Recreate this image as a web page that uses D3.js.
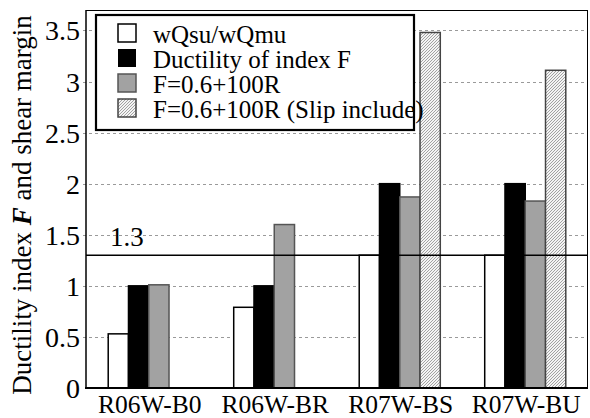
<!DOCTYPE html>
<html>
<head>
<meta charset="utf-8">
<script src="https://cdn.jsdelivr.net/npm/d3@7"></script>
<style>
  html, body { margin: 0; padding: 0; background: #fff; }
  svg { display: block; }
</style>
</head>
<body>
<svg id="chart" width="590" height="418"></svg>
<script>
const categories = ["R06W-B0", "R06W-BR", "R07W-BS", "R07W-BU"];
const seriesNames = ["wQsu/wQmu", "Ductility of index F", "F=0.6+100R", "F=0.6+100R (Slip include)"];
const shearMargin = [0.53, 0.79, 1.30, 1.30];
const ductilityF = [1.00, 1.00, 2.00, 2.00];
const formulaF = [1.01, 1.60, 1.87, 1.83];
const formulaSlipF = [null, null, 3.48, 3.11];
const yTicks = [0, 0.5, 1, 1.5, 2, 2.5, 3, 3.5];
const tickLabels = ["0", "0.5", "1", "1.5", "2", "2.5", "3", "3.5"];
const refValue = 1.3;
const refLabel = "1.3";

const seriesValues = [shearMargin, ductilityF, formulaF, formulaSlipF];
const FONT = "Liberation Serif";

const svg = d3.select("#chart");
const mLeft = 86, mRight = 588, mTop = 10, mBottom = 388;

const defs = svg.append("defs");
const pat = defs.append("pattern").attr("id", "hatch").attr("patternUnits", "userSpaceOnUse")
  .attr("width", 3).attr("height", 3);
pat.append("rect").attr("width", 3).attr("height", 3).attr("fill", "#f4f4f4");
pat.append("path").attr("d", "M-1,1 L1,-1 M0,3 L3,0 M2,4 L4,2").attr("stroke", "#999999").attr("stroke-width", 0.9);

const fills = ["#ffffff", "#000000", "#a2a2a2", "url(#hatch)"];
const strokes = ["#000000", "#000000", "#555555", "#444444"];

const y = d3.scaleLinear().domain([0, 3.7]).range([mBottom, mTop]);
const x = d3.scaleBand().domain(categories).range([mLeft, mRight]).paddingInner(0.354).paddingOuter(0.177);
const xs = d3.scaleBand().domain(d3.range(seriesNames.length)).range([0, x.bandwidth()]).padding(0);

// gridlines
svg.append("g").selectAll("line").data(yTicks.filter(d => d > 0)).join("line")
  .attr("x1", mLeft - 3).attr("x2", mRight)
  .attr("y1", d => Math.round(y(d)) + 0.5).attr("y2", d => Math.round(y(d)) + 0.5)
  .attr("stroke", "#9a9a9a").attr("stroke-width", 1).attr("stroke-dasharray", "3,3");

// bars
const rows = [];
categories.forEach((c, ci) => {
  seriesValues.forEach((vals, si) => {
    if (vals[ci] != null) rows.push({ c, si, v: vals[ci] });
  });
});
svg.append("g").selectAll("rect").data(rows).join("rect")
  .attr("x", d => x(d.c) + xs(d.si))
  .attr("y", d => y(d.v))
  .attr("width", xs.bandwidth())
  .attr("height", d => y(0) - y(d.v))
  .attr("fill", d => fills[d.si])
  .attr("stroke", d => strokes[d.si])
  .attr("stroke-width", 1.5);

// reference line
svg.append("line").attr("x1", mLeft).attr("x2", mRight)
  .attr("y1", y(refValue)).attr("y2", y(refValue))
  .attr("stroke", "#000").attr("stroke-width", 1.5);
svg.append("text").attr("x", 110).attr("y", y(refValue) - 9)
  .attr("font-family", FONT).attr("font-size", 27).attr("fill", "#000").text(refLabel);

// frame
svg.append("line").attr("x1", mLeft).attr("x2", mRight).attr("y1", mTop + 0.5).attr("y2", mTop + 0.5).attr("stroke", "#000").attr("stroke-width", 1);
svg.append("line").attr("x1", mRight - 0.5).attr("x2", mRight - 0.5).attr("y1", mTop).attr("y2", mBottom).attr("stroke", "#000").attr("stroke-width", 1);
svg.append("line").attr("x1", mLeft).attr("x2", mLeft).attr("y1", mTop).attr("y2", mBottom).attr("stroke", "#000").attr("stroke-width", 1.5);
svg.append("line").attr("x1", mLeft - 1).attr("x2", mRight).attr("y1", mBottom).attr("y2", mBottom).attr("stroke", "#000").attr("stroke-width", 2);

// y tick labels
svg.append("g").selectAll("text").data(yTicks).join("text")
  .attr("x", 80).attr("y", d => y(d) + 10)
  .attr("text-anchor", "end").attr("font-family", FONT).attr("font-size", 28).attr("fill", "#000")
  .text((d, i) => tickLabels[i]);

// x labels
svg.append("g").selectAll("text").data(categories).join("text")
  .attr("x", d => x(d) + x.bandwidth() / 2 + 1).attr("y", 413)
  .attr("text-anchor", "middle").attr("font-family", FONT).attr("font-size", 25.5).attr("fill", "#000")
  .text(d => d);

// y axis title
const yt = svg.append("text").attr("transform", "translate(31,205) rotate(-90)")
  .attr("text-anchor", "middle").attr("font-family", FONT).attr("font-size", 27).attr("fill", "#000");
yt.append("tspan").text("Ductility index ");
yt.append("tspan").attr("font-weight", "bold").attr("font-style", "italic").text("F");
yt.append("tspan").text(" and shear margin");

// legend
const lg = svg.append("g");
lg.append("rect").attr("x", 96).attr("y", 15).attr("width", 318).attr("height", 115)
  .attr("fill", "#fff").attr("stroke", "#000").attr("stroke-width", 2.2);
seriesNames.forEach((name, i) => {
  const by = 43 + i * 25;
  lg.append("rect").attr("x", 118).attr("y", by - 19).attr("width", 18).attr("height", 18)
    .attr("fill", fills[i]).attr("stroke", i === 1 ? "none" : strokes[i]).attr("stroke-width", 1.5);
  lg.append("text").attr("x", 153).attr("y", by).attr("font-family", FONT).attr("font-size", 25).attr("fill", "#000").text(name);
});
</script>
</body>
</html>
